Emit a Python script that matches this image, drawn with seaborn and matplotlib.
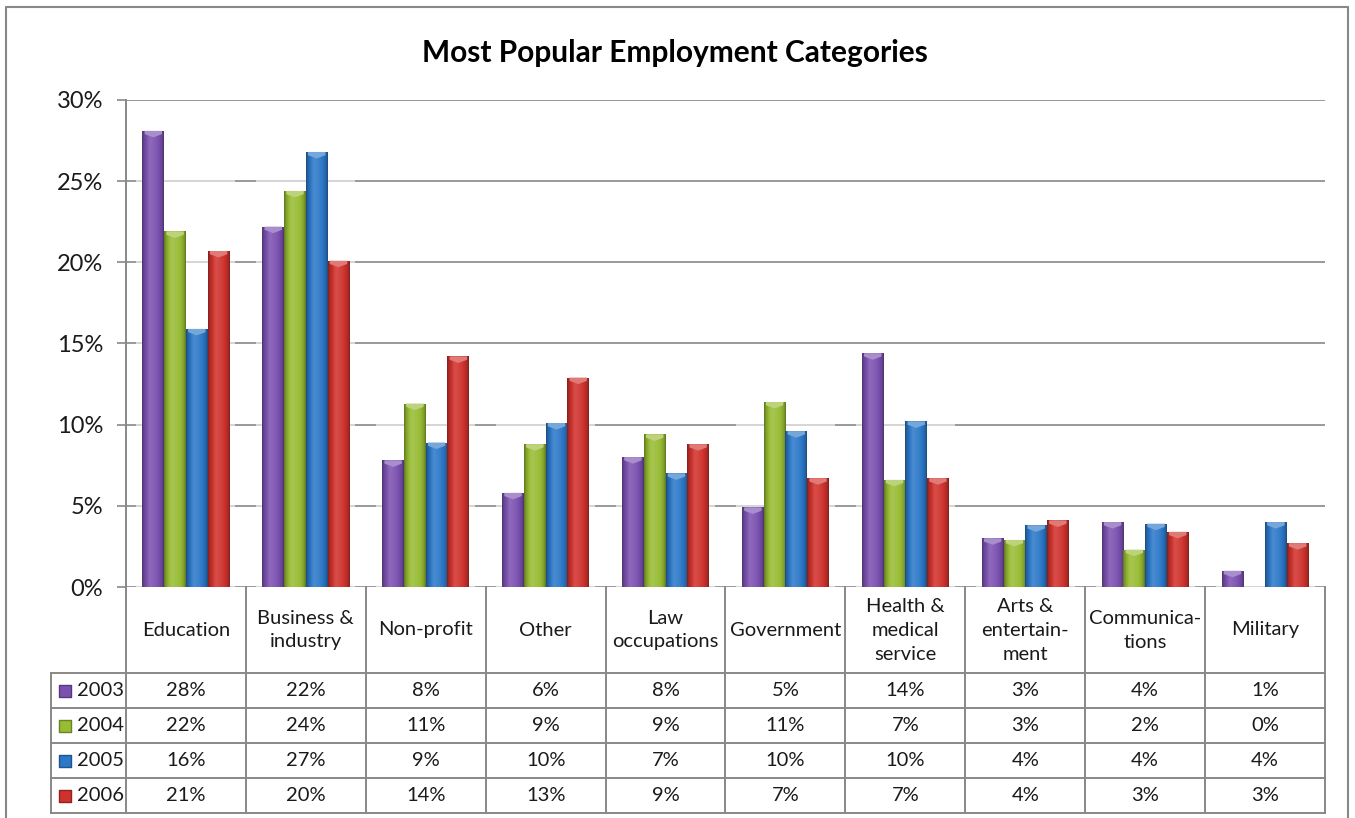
import numpy as np
import pandas as pd
import matplotlib
matplotlib.use("Agg")
import matplotlib.pyplot as plt
from matplotlib.patches import Rectangle, Polygon
from matplotlib.lines import Line2D
from matplotlib.ticker import PercentFormatter, MultipleLocator
import seaborn as sns

# ---- data -------------------------------------------------------------
categories = [
    "Education", "Business &\nindustry", "Non-profit", "Other",
    "Law\noccupations", "Government", "Health &\nmedical\nservice",
    "Arts &\nentertain-\nment", "Communica-\ntions", "Military",
]
years = ["2003", "2004", "2005", "2006"]
share_2003 = [0.281, 0.222, 0.078, 0.058, 0.080, 0.049, 0.144, 0.030, 0.040, 0.010]
share_2004 = [0.219, 0.244, 0.113, 0.088, 0.094, 0.114, 0.066, 0.029, 0.023, 0.000]
share_2005 = [0.159, 0.268, 0.089, 0.101, 0.070, 0.096, 0.102, 0.038, 0.039, 0.040]
share_2006 = [0.207, 0.201, 0.142, 0.129, 0.088, 0.067, 0.067, 0.041, 0.034, 0.027]
year_colors = ["#7B51B0", "#98BC34", "#2C78C8", "#CF322D"]

series = [share_2003, share_2004, share_2005, share_2006]
df = pd.DataFrame({
    "category": categories * len(years),
    "year": np.repeat(years, len(categories)),
    "share": np.concatenate(series),
})

# ---- figure ------------------------------------------------------------
W, H = 1355, 818
sns.set_style("white")
plt.rcParams["font.family"] = ["Lato", "DejaVu Sans"]
grey = "#888888"
text_color = "#1a1a1a"

fig = plt.figure(figsize=(W / 100, H / 100), dpi=100)


def box(x0, y0, x1, y1):
    """Axes rectangle from pixel edges measured from the top-left corner."""
    return [x0 / W, 1 - y1 / H, (x1 - x0) / W, (y1 - y0) / H]


ax = fig.add_axes(box(126, 100, 1325, 587))
tab = fig.add_axes(box(51, 587, 1325, 813))

group_width = 0.725
sns.barplot(
    data=df, x="category", y="share", hue="year",
    order=categories, hue_order=years, palette=year_colors,
    width=group_width, dodge=True, saturation=1, legend=False,
    edgecolor="none", linewidth=0, zorder=2, ax=ax,
)
bars = list(ax.patches)


def shade(rgb, f):
    rgb = np.asarray(rgb)[..., :3]
    f = np.asarray(f)[..., None]
    dark = rgb * f
    light = rgb + (1 - rgb) * (f - 1)
    return np.clip(np.where(f < 1, dark, light), 0, 1)


# cylinder-like shading across each column
t = np.linspace(0, 1, 80)
profile = 0.58 + 0.50 * np.sin(np.pi * t) ** 0.55 + 0.08 * np.exp(-((t - 0.35) / 0.12) ** 2)
cap = 0.004
for bar in bars:
    h = bar.get_height()
    if h <= 0:
        continue
    x, w = bar.get_x(), bar.get_width()
    base = np.array(bar.get_facecolor()[:3])
    img = shade(base, profile)[None, :, :]
    im = ax.imshow(img, extent=[x, x + w, 0, h], aspect="auto",
                   interpolation="bilinear", zorder=2.1)
    im.set_clip_path(bar)
    if h > cap:
        ax.add_patch(Polygon(
            [(x + 0.1 * w, h), (x + 0.9 * w, h), (x + 0.9 * w, h - 0.5 * cap),
             (x + 0.5 * w, h - cap), (x + 0.1 * w, h - 0.5 * cap)],
            closed=True, facecolor=shade(base, 1.35), edgecolor="none", zorder=2.2))

# soft glow behind each group of columns
maxima = np.max(np.array(series), axis=0)
for i, m in enumerate(maxima):
    ax.add_patch(Rectangle((i - group_width / 2 - 0.05, 0), group_width + 0.1, m + 0.004,
                           facecolor="white", alpha=0.6, edgecolor="none", zorder=1))

ax.set_xlim(-0.5, len(categories) - 0.5)
ax.set_ylim(0, 0.30)
ax.yaxis.set_major_locator(MultipleLocator(0.05))
ax.yaxis.set_major_formatter(PercentFormatter(1.0, decimals=0))
ax.set_axisbelow(True)
ax.grid(axis="y", color=grey, linewidth=1.2)
ax.grid(axis="x", visible=False)
for side in ["top", "right", "bottom"]:
    ax.spines[side].set_visible(False)
ax.spines["left"].set_color(grey)
ax.spines["left"].set_linewidth(1.4)
ax.tick_params(axis="y", left=True, length=6.5, width=1.2, color=grey,
               labelsize=17, pad=10, labelcolor=text_color)
ax.tick_params(axis="x", bottom=False, labelbottom=False)
ax.set_xlabel("")
ax.set_ylabel("")

# ---- data table --------------------------------------------------------
n_rows = len(years)
header = 86 / 35
legend_left = -0.5 - 75 / 120
right = len(categories) - 0.5
tab.set_xlim(legend_left, right)
tab.set_ylim(0, n_rows + header)
tab.axis("off")

line_kw = dict(color=grey, linewidth=1.4, clip_on=False, solid_capstyle="projecting")
for k in range(len(categories) + 1):
    tab.plot([k - 0.5, k - 0.5], [0, n_rows + header], **line_kw)
tab.plot([legend_left, legend_left], [0, n_rows], **line_kw)
for r in range(n_rows + 1):
    tab.plot([legend_left, right], [r, r], **line_kw)

table_fs = 14.5
for i, cat in enumerate(categories):
    tab.text(i, n_rows + header / 2, cat, ha="center", va="center",
             fontsize=table_fs, linespacing=1.5, color=text_color)

for r, (yr, vals, col) in enumerate(zip(years, series, year_colors)):
    yc = n_rows - r - 0.5
    tab.scatter([legend_left + 0.117], [yc], marker="s", s=85, color=col,
                edgecolor=shade(np.array(matplotlib.colors.to_rgb(col)), 0.7),
                linewidth=1, clip_on=False, zorder=3)
    tab.text(legend_left + 0.215, yc, yr, ha="left", va="center",
             fontsize=table_fs, color=text_color)
    for i, v in enumerate(vals):
        tab.text(i, yc, f"{v:.0%}", ha="center", va="center",
                 fontsize=table_fs, color=text_color)

# ---- title and chart border --------------------------------------------
fig.text(674.5 / W, 1 - 53 / H, "Most Popular Employment Categories",
         ha="center", va="center", fontsize=21.5, fontweight="bold", color="black")

frame_kw = dict(color=grey, linewidth=1.5, transform=fig.transFigure)
fig.add_artist(Line2D([6 / W, 6 / W], [0, 1 - 7 / H], **frame_kw))
fig.add_artist(Line2D([6 / W, 1348 / W], [1 - 7 / H, 1 - 7 / H], **frame_kw))
fig.add_artist(Line2D([1348 / W, 1348 / W], [0, 1 - 7 / H], **frame_kw))

fig.savefig("out.png", dpi=100)
